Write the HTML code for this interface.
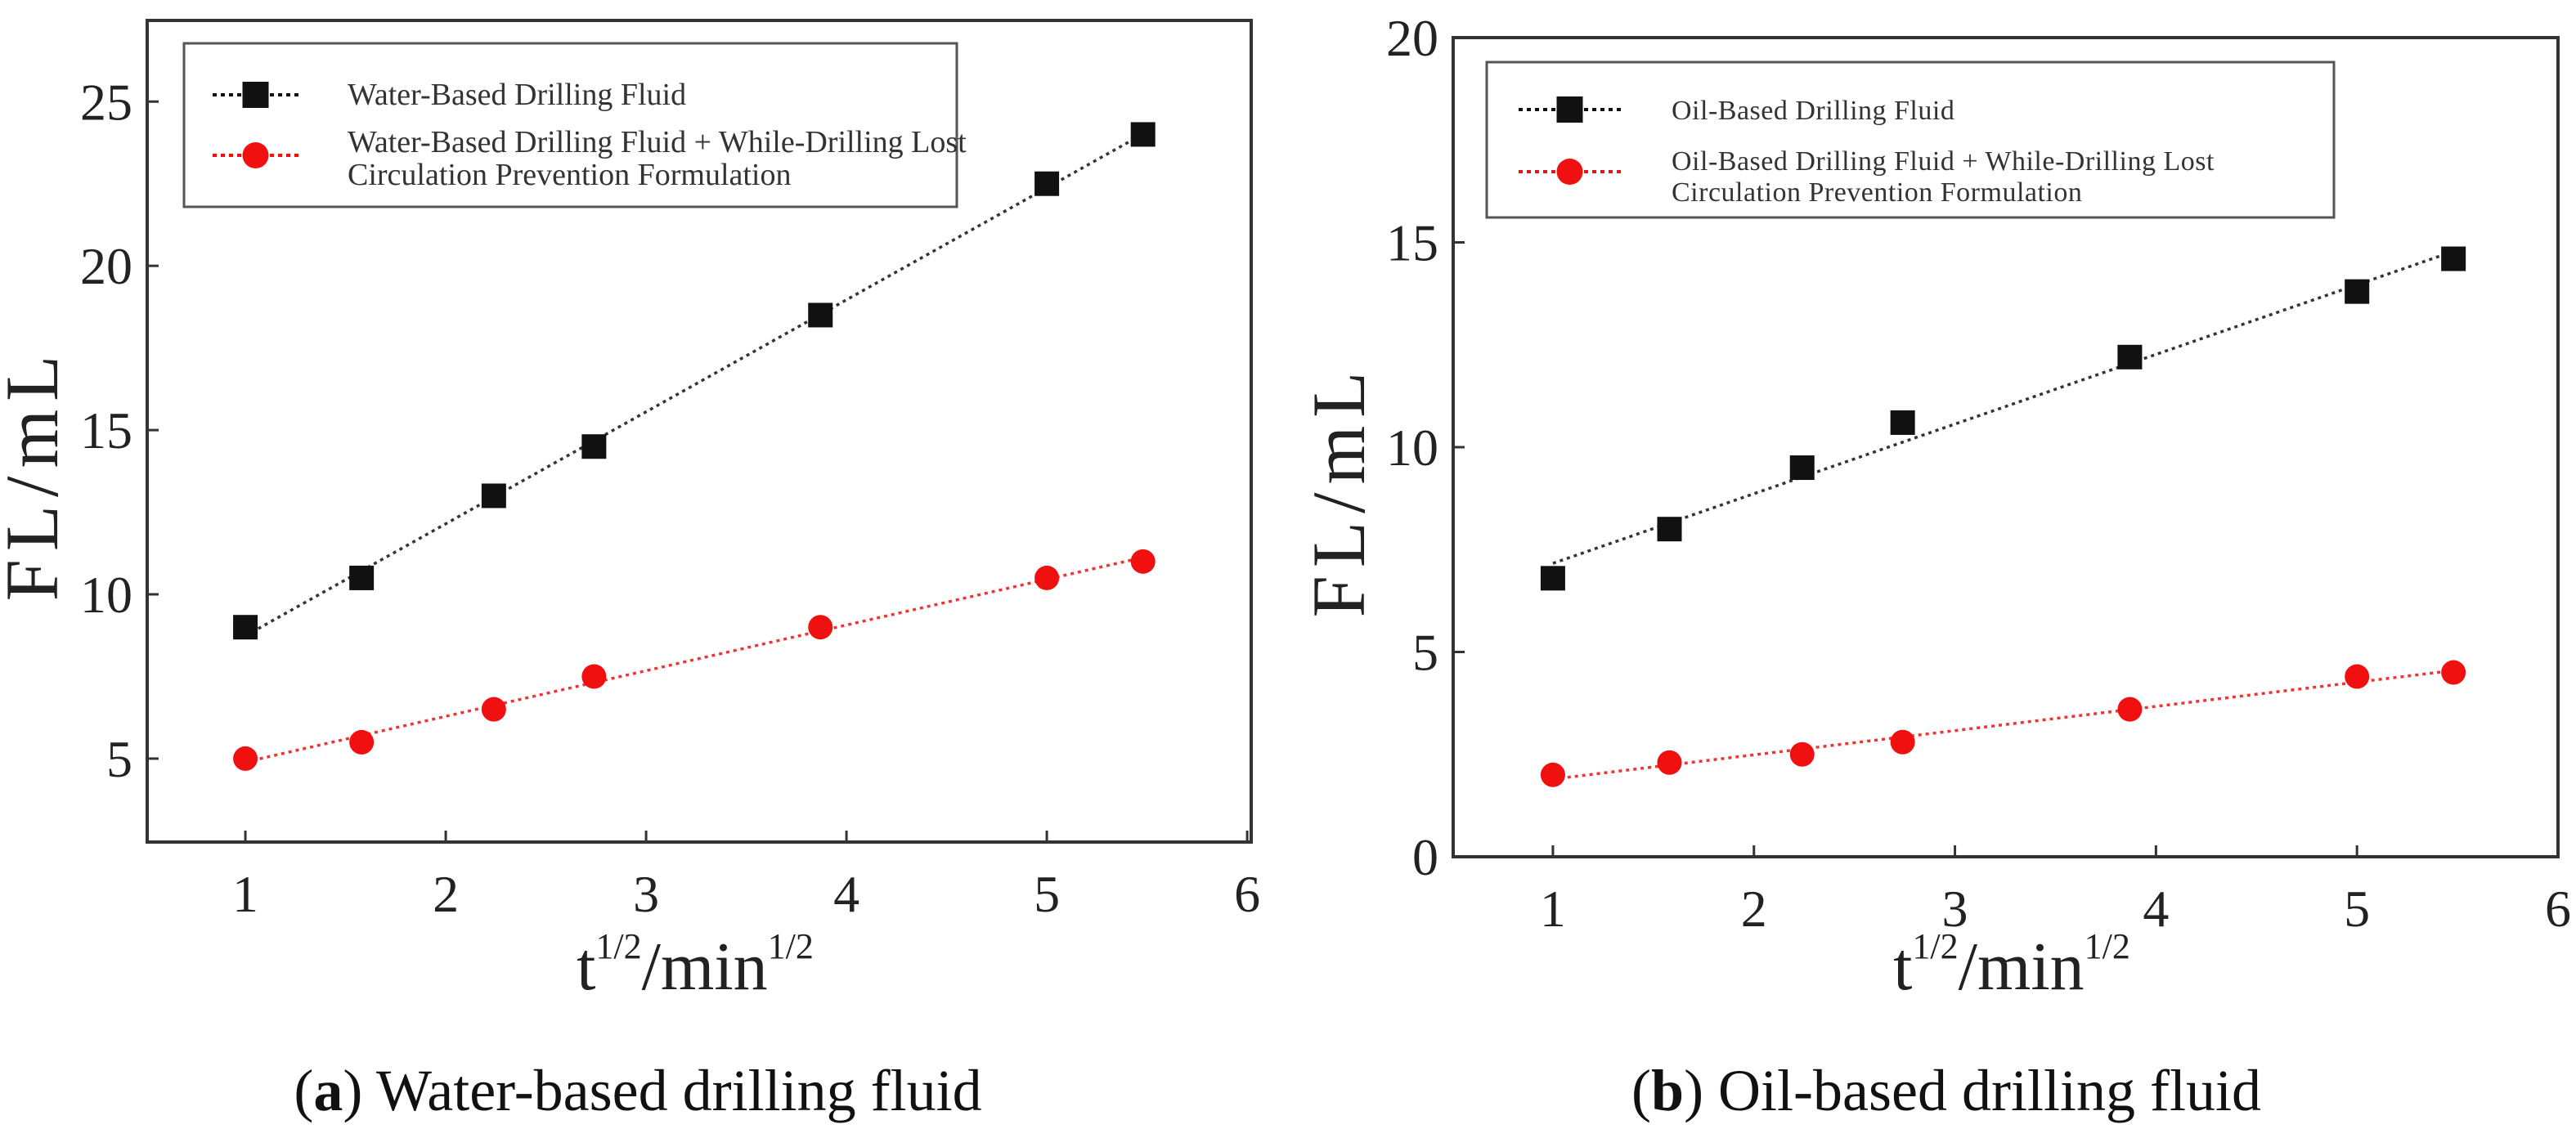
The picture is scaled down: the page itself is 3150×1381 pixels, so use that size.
<!DOCTYPE html>
<html><head><meta charset="utf-8"><style>
html,body{margin:0;padding:0;background:#fff;}
svg{display:block;font-family:"Liberation Serif",serif;}
</style></head><body>
<svg id="fig" width="3150" height="1381" viewBox="0 0 3150 1381" xmlns="http://www.w3.org/2000/svg"></svg>
<script>
const xValues = [1, 1.58, 2.24, 2.74, 3.87, 5, 5.48];
const waterBase = [9, 10.5, 13, 14.5, 18.5, 22.5, 24];
const waterLcp = [5, 5.5, 6.5, 7.5, 9, 10.5, 11];
const oilBase = [6.8, 8, 9.5, 10.6, 12.2, 13.8, 14.6];
const oilLcp = [2, 2.3, 2.5, 2.8, 3.6, 4.4, 4.5];
const xTicks = [1, 2, 3, 4, 5, 6];
const yTicksA = [5, 10, 15, 20, 25];
const yTicksB = [0, 5, 10, 15, 20];
const legendA = ["Water-Based Drilling Fluid", "Water-Based Drilling Fluid + While-Drilling Lost", "Circulation Prevention Formulation"];
const legendB = ["Oil-Based Drilling Fluid", "Oil-Based Drilling Fluid + While-Drilling Lost", "Circulation Prevention Formulation"];

const NS = "http://www.w3.org/2000/svg";
const svg = document.getElementById('fig');
function mk(tag, attrs, parent, text) {
  const e = document.createElementNS(NS, tag);
  for (const k in attrs) e.setAttribute(k, attrs[k]);
  if (text !== undefined) e.textContent = text;
  (parent || svg).appendChild(e);
  return e;
}
function fit(xs, ys) {
  const n = xs.length; let sx=0, sy=0, sxx=0, sxy=0;
  for (let i=0;i<n;i++){sx+=xs[i];sy+=ys[i];sxx+=xs[i]*xs[i];sxy+=xs[i]*ys[i];}
  const b=(n*sxy-sx*sy)/(n*sxx-sx*sx); return [b,(sy-b*sx)/n];
}
function panel(cfg) {
  const g = mk('g', {}, svg);
  
  
  const X = v => cfg.L + (v - cfg.x0) / (cfg.x1 - cfg.x0) * (cfg.R - cfg.L);
  const Y = v => cfg.B - (v - cfg.y0) / (cfg.y1 - cfg.y0) * (cfg.B - cfg.T);
  const frame = mk('rect', {x:cfg.L, y:cfg.T, width:cfg.R-cfg.L, height:cfg.B-cfg.T, fill:'none', stroke:'#333', 'stroke-width':4}, g);
  
  
  xTicks.forEach(t => {
    const tk = mk('line', {x1:X(t), x2:X(t), y1:cfg.B, y2:cfg.B-14, stroke:'#333', 'stroke-width':3}, g);
    
    
    const lb = mk('text', {x:X(t), y:cfg.B+85, 'font-size':64, 'text-anchor':'middle', fill:'#222'}, g, String(t));
    
    
  });
  cfg.yTicks.forEach(t => {
    const tk = mk('line', {x1:cfg.L, x2:cfg.L+14, y1:Y(t), y2:Y(t), stroke:'#333', 'stroke-width':3}, g);
    
    
    const lb = mk('text', {x:cfg.L-18, y:Y(t)+22, 'font-size':64, 'text-anchor':'end', fill:'#222'}, g, String(t));
    
    
  });
  const yt = mk('text', {x:0, y:0, 'font-size':92, 'letter-spacing':10, 'text-anchor':'middle', fill:'#222', transform:`translate(${cfg.ytx},${cfg.yty}) rotate(-90)`}, g, 'FL/mL');
  
  
  const xt = mk('text', {x:cfg.xtx, y:1210, 'font-size':84, 'text-anchor':'middle', fill:'#222'}, g);
  
  
  mk('tspan', {}, xt, 't');
  mk('tspan', {dy:-38, 'font-size':44}, xt, '1/2');
  mk('tspan', {dy:38}, xt, '/min');
  mk('tspan', {dy:-38, 'font-size':44}, xt, '1/2');
  cfg.series.forEach(s => {
    const [b, a] = fit(xValues, s.vals);
    const ln = mk('line', {x1:X(1), y1:Y(a+b), x2:X(5.5), y2:Y(a+b*5.5), stroke:s.color, 'stroke-width':3.5, 'stroke-dasharray':'4 5', opacity:0.85}, g);
    
    
    s.vals.forEach((v, i) => {
      let m;
      if (s.shape === 'sq') m = mk('rect', {x:X(xValues[i])-15, y:Y(v)-15, width:30, height:30, fill:s.color}, g);
      else m = mk('circle', {cx:X(xValues[i]), cy:Y(v), r:15, fill:s.color}, g);
      
      
    });
  });
  const lg = cfg.lg;
  const box = mk('rect', {x:lg.x, y:lg.y, width:lg.w, height:lg.h, fill:'#fff', stroke:'#555', 'stroke-width':3}, g);
  
  
  const rows = [lg.y1, lg.y2];
  cfg.series.forEach((s, i) => {
    const l = mk('line', {x1:lg.sx, x2:lg.sx+lg.sw, y1:rows[i], y2:rows[i], stroke:s.color, 'stroke-width':4, 'stroke-dasharray':'5 5'}, g);
    
    
    const cx = lg.sx + lg.sw/2;
    let m;
    if (s.shape === 'sq') m = mk('rect', {x:cx-16, y:rows[i]-16, width:32, height:32, fill:s.color}, g);
    else m = mk('circle', {cx:cx, cy:rows[i], r:16, fill:s.color}, g);
    
    
  });
  lg.ty.forEach((r, i) => {
    const t = mk('text', {x:lg.tx, y:r+12, 'font-size':lg.fs, 'letter-spacing':lg.ls, fill:'#333'}, g, cfg.legend[i]);
    
    
  });
  const cap = mk('text', {x:cfg.capx, y:1358, 'font-size':72, 'text-anchor':'middle', fill:'#111'}, g);
  
  
  mk('tspan', {}, cap, '(');
  mk('tspan', {'font-weight':'bold'}, cap, cfg.letter);
  mk('tspan', {}, cap, ') ' + cfg.caption);
}
panel({name:'panel-a-water', L:180, R:1530, T:25, B:1030, x0:0.51, x1:6.02, y0:2.46, y1:27.47, yTicks:yTicksA,
  ytx:70, yty:580, xtx:850, capx:780, letter:'a', caption:'Water-based drilling fluid', legend:legendA,
  lg:{x:225, y:53, w:945, h:200, sx:260, sw:105, y1:116, y2:190, tx:425, ty:[116, 174, 214], fs:38, ls:0},
  series:[{name:'water-based', vals:waterBase, color:'#111', shape:'sq'}, {name:'water-based-lcp', vals:waterLcp, color:'#f01010', shape:'ci'}]});
panel({name:'panel-b-oil', L:1777, R:3128, T:46, B:1048, x0:0.504, x1:6.0, y0:0, y1:20, yTicks:yTicksB,
  ytx:1668, yty:600, xtx:2460, capx:2380, letter:'b', caption:'Oil-based drilling fluid', legend:legendB,
  lg:{x:1818, y:76, w:1036, h:190, sx:1857, sw:125, y1:134, y2:210, tx:2044, ty:[134, 196, 234], fs:34, ls:0.5},
  series:[{name:'oil-based', vals:oilBase, color:'#111', shape:'sq'}, {name:'oil-based-lcp', vals:oilLcp, color:'#f01010', shape:'ci'}]});
</script>
</body></html>
